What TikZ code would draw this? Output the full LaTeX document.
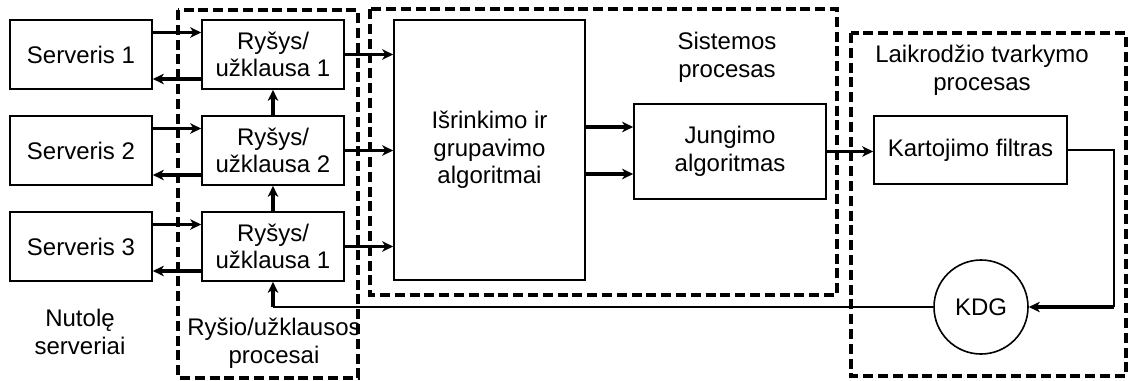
\documentclass[tikz,border=0pt]{standalone}
\usepackage{fontspec}
\setmainfont{Liberation Sans}
\usetikzlibrary{arrows.meta,calc}
\begin{document}
\begin{tikzpicture}[x=0.5pt,y=-0.5pt,
  font=\fontsize{12}{13.8}\selectfont,
  blk/.style={draw,line width=0.8pt,inner sep=0pt,align=center},
  small/.style={blk,minimum width=71pt,minimum height=34.5pt},
  region/.style={draw,line width=1.8pt,dash pattern=on 5pt off 2.4pt},
  flow/.style={line width=1.6pt,-{Stealth[length=5.5pt,width=5.2pt,inset=1.6pt]}},
  thinline/.style={line width=0.8pt},
  lbl/.style={align=center,inner sep=0pt}]
\useasboundingbox (0,0) rectangle (1134,380);

% process regions
\draw[region] (178,10) rectangle (358,378);
\draw[region] (370,9) rectangle (837,295);
\draw[region] (851,33) rectangle (1126,376);

% servers
\node[small] (s1) at (81,54.5) {Serveris 1};
\node[small] (s2) at (81,150.5) {Serveris 2};
\node[small] (s3) at (81,246.5) {Serveris 3};

% connection / request blocks
\node[small] (r1) at (273,54.5) {Ryšys/\\užklausa 1};
\node[small] (r2) at (273,150.5) {Ryšys/\\užklausa 2};
\node[small] (r3) at (273,246.5) {Ryšys/\\užklausa 1};

% system blocks
\node[blk,minimum width=95.5pt,minimum height=130pt] (isr) at (489.5,150) {Išrinkimo ir\\grupavimo\\algoritmai};
\node[blk,minimum width=96pt,minimum height=47.5pt] (jun) at (730,151.5) {Jungimo\\algoritmas};
\node[blk,minimum width=96.5pt,minimum height=34pt] (kar) at (970.5,150) {Kartojimo filtras};
\node[blk,circle,minimum size=47pt] (kdg) at (981,307) {KDG};

% region captions
\node[lbl] (cap1) at (80,332) {Nutolę\\serveriai};
\node[lbl] (cap2) at (274,343) {Ryšio/užklausos\\procesai};
\node[lbl] (cap3) at (727,57) {Sistemos\\procesas};
\node[lbl] (cap4) at (982,70) {Laikrodžio tvarkymo\\procesas};

% server <-> request links
\foreach \i in {1,2,3}{
  \draw[flow] ($(s\i.east)+(0,-22)$) -- ($(r\i.west)+(0,-22)$);
  \draw[flow] ($(r\i.west)+(0,24.5)$) -- ($(s\i.east)+(0,24.5)$);
  \draw[flow] (r\i.east) -- (r\i.east -| isr.west);
}
\draw[flow] (r2.north) -- (r1.south);
\draw[flow] (r3.north) -- (r2.south);

% system flow
\draw[flow] ($(isr.east)+(0,-23)$) -- ($(jun.west)+(0,-24.5)$);
\draw[flow] ($(isr.east)+(0,24)$) -- ($(jun.west)+(0,22.5)$);
\draw[flow] (jun.east) -- (jun.east -| kar.west);

% clock feedback loop
\coordinate (kc) at (1114,307);
\coordinate (fb) at (kdg.west -| r3.south);
\draw[thinline] (kar.east) -| (kc);
\draw[flow] (kc) -- (kdg.east);
\draw[thinline] (kdg.west) -- (fb);
\draw[flow] (fb) -- (r3.south);
\end{tikzpicture}
\end{document}
